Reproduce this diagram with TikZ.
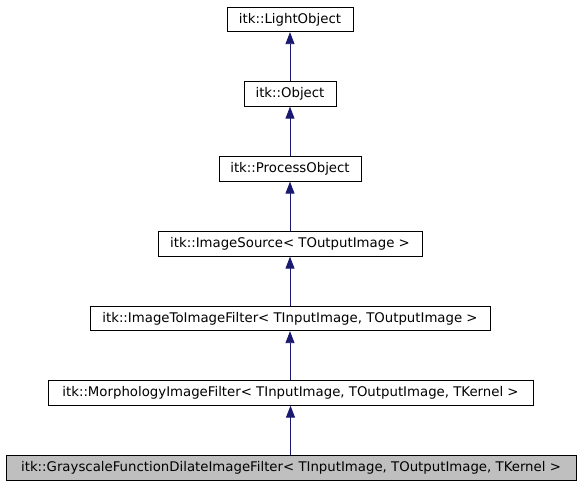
\documentclass[tikz,border=0pt]{standalone}
\usepackage{fontspec}
\setmainfont{DejaVu Sans}
\usetikzlibrary{arrows.meta}
\definecolor{edgeblue}{HTML}{191970}
\definecolor{hlgrey}{HTML}{BFBFBF}
\begin{document}
\begin{tikzpicture}[x=1pt,y=-1pt,
  cls/.style={draw=black,line width=0.8pt,fill=white,minimum height=24.5pt,inner sep=0pt,font=\fontsize{13.3}{15}\selectfont},
  cur/.style={cls,fill=hlgrey},
  inh/.style={draw=edgeblue,line width=0.9pt,-{Triangle[length=12pt,width=9pt]}}]
\useasboundingbox (0,0) rectangle (579,485);
\node[cls,minimum width=126pt] (lo) at (290,19.5) {itk::LightObject};
\node[cls,minimum width=92pt] (ob) at (290,94) {itk::Object};
\node[cls,minimum width=142pt] (po) at (290,169) {itk::ProcessObject};
\node[cls,minimum width=264pt] (is) at (290,244) {itk::ImageSource< TOutputImage >};
\node[cls,minimum width=400pt] (ii) at (290,318.5) {itk::ImageToImageFilter< TInputImage, TOutputImage >};
\node[cls,minimum width=485pt] (mo) at (290.5,393) {itk::MorphologyImageFilter< TInputImage, TOutputImage, TKernel >};
\node[cur,minimum width=570pt] (gr) at (291,468) {itk::GrayscaleFunctionDilateImageFilter< TInputImage, TOutputImage, TKernel >};
\draw[inh] (ob.north -| lo.south) -- (lo.south);
\draw[inh] (po.north -| ob.south) -- (ob.south);
\draw[inh] (is.north -| po.south) -- (po.south);
\draw[inh] (ii.north -| is.south) -- (is.south);
\draw[inh] (mo.north -| ii.south) -- (ii.south);
\draw[inh] (gr.north -| mo.south) -- (mo.south);
\end{tikzpicture}
\end{document}
